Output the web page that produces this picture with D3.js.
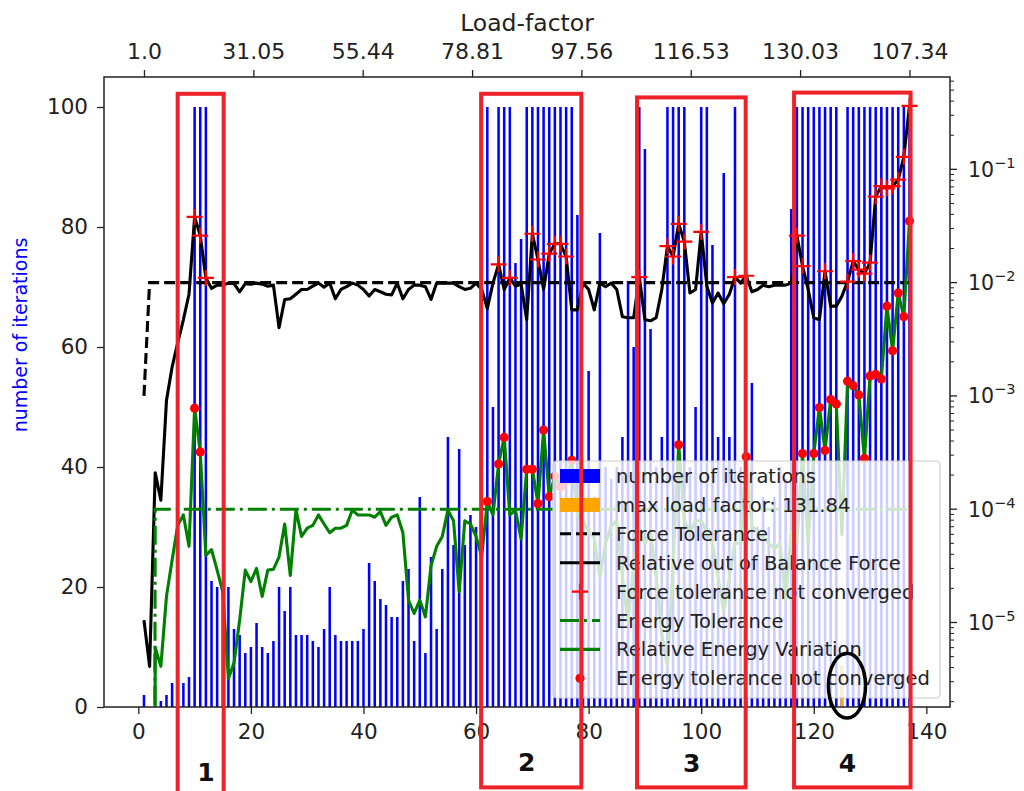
<!DOCTYPE html>
<html>
<head>
<meta charset="utf-8">
<script src="https://cdn.jsdelivr.net/npm/d3@7"></script>
<style>
  body { margin: 0; background: #fff; }
  text { font-family: "DejaVu Sans", sans-serif; }
</style>
</head>
<body>
<svg id="chart" width="1024" height="791"></svg>
<script>
// load steps 1..137 (bar positions on the bottom axis)
const steps = d3.range(1, 138);

// number of iterations per load step
const iterations = [
  2, 0, 0, 1, 2, 4, 4, 4, 5, 100,
  100, 100, 21, 20, 20, 20, 13, 12, 9, 10,
  14, 10, 9, 11, 20, 16, 20, 12, 12, 12,
  11, 10, 13, 20, 12, 11, 11, 11, 11, 13,
  24, 21, 18, 17, 15, 15, 21, 23, 11, 35,
  9, 25, 13, 23, 45, 27, 43, 27, 32, 30,
  28, 100, 50, 100, 100, 100, 74, 78, 100, 100,
  100, 100, 100, 100, 100, 100, 100, 82, 40, 56,
  35, 79, 40, 38, 40, 45, 71, 60, 100, 93,
  63, 40, 45, 100, 100, 100, 100, 40, 50, 100,
  100, 77, 45, 89, 45, 100, 40, 40, 54, 30,
  35, 30, 35, 40, 38, 83, 100, 100, 100, 100,
  100, 100, 100, 100, 7, 100, 100, 100, 100, 100,
  100, 100, 100, 100, 100, 100, 100
];

// relative out of balance force (right log axis)
const forceRes = [
  1.05e-5, 4.1e-6, 2.1e-4, 1.2e-4, 9.1e-4, 1.8e-3, 2.95e-3, 4.7e-3, 7.9e-3, 3.8e-2,
  2.6e-2, 1.1e-2, 8.9e-3, 9.5e-3, 9.5e-3, 9.9e-3, 9.8e-3, 8.3e-3, 9.8e-3, 9.7e-3,
  9.9e-3, 9.7e-3, 9.3e-3, 9.5e-3, 4.0e-3, 7.1e-3, 7.2e-3, 7.9e-3, 8.7e-3, 8.7e-3,
  9.3e-3, 9.9e-3, 9.1e-3, 9.9e-3, 7.2e-3, 8.7e-3, 9.2e-3, 9.9e-3, 9.5e-3, 8.7e-3,
  7.6e-3, 8.7e-3, 8.3e-3, 7.9e-3, 7.8e-3, 9.9e-3, 7.2e-3, 8.7e-3, 9.5e-3, 9.5e-3,
  9.2e-3, 7.1e-3, 9.9e-3, 9.9e-3, 9.9e-3, 9.9e-3, 9.2e-3, 8.7e-3, 8.9e-3, 9.9e-3,
  8.7e-3, 5.9e-3, 9.9e-3, 1.45e-2, 8.7e-3, 1.1e-2, 9.3e-3, 9.7e-3, 4.7e-3, 2.7e-2,
  1.6e-2, 8.7e-3, 1.8e-2, 2.2e-2, 2.2e-2, 1.7e-2, 5.75e-3, 5.75e-3, 9.9e-3, 8.7e-3,
  5.75e-3, 9.9e-3, 9.2e-3, 9.9e-3, 8.7e-3, 5.0e-3, 4.9e-3, 4.9e-3, 1.12e-2, 4.7e-3,
  4.6e-3, 4.9e-3, 8.7e-3, 2.1e-2, 1.7e-2, 3.3e-2, 2.3e-2, 8.1e-3, 8.7e-3, 2.8e-2,
  9.3e-3, 6.6e-3, 8.1e-3, 6.5e-3, 7.9e-3, 1.12e-2, 9.9e-3, 1.15e-2, 8.3e-3, 8.7e-3,
  9.5e-3, 9.2e-3, 9.5e-3, 9.5e-3, 9.5e-3, 9.9e-3, 2.6e-2, 1.4e-2, 8.7e-3, 4.9e-3,
  4.7e-3, 1.26e-2, 6.2e-3, 6.2e-3, 7.6e-3, 1.02e-2, 1.55e-2, 1.3e-2, 1.2e-2, 1.5e-2,
  5.75e-2, 7.1e-2, 6.8e-2, 7.1e-2, 8.1e-2, 0.129, 0.363
];

// force tolerance
const forceTol = [
  1e-3, 1e-2, 1e-2, 1e-2, 1e-2, 1e-2, 1e-2, 1e-2, 1e-2, 1e-2,
  1e-2, 1e-2, 1e-2, 1e-2, 1e-2, 1e-2, 1e-2, 1e-2, 1e-2, 1e-2,
  1e-2, 1e-2, 1e-2, 1e-2, 1e-2, 1e-2, 1e-2, 1e-2, 1e-2, 1e-2,
  1e-2, 1e-2, 1e-2, 1e-2, 1e-2, 1e-2, 1e-2, 1e-2, 1e-2, 1e-2,
  1e-2, 1e-2, 1e-2, 1e-2, 1e-2, 1e-2, 1e-2, 1e-2, 1e-2, 1e-2,
  1e-2, 1e-2, 1e-2, 1e-2, 1e-2, 1e-2, 1e-2, 1e-2, 1e-2, 1e-2,
  1e-2, 1e-2, 1e-2, 1e-2, 1e-2, 1e-2, 1e-2, 1e-2, 1e-2, 1e-2,
  1e-2, 1e-2, 1e-2, 1e-2, 1e-2, 1e-2, 1e-2, 1e-2, 1e-2, 1e-2,
  1e-2, 1e-2, 1e-2, 1e-2, 1e-2, 1e-2, 1e-2, 1e-2, 1e-2, 1e-2,
  1e-2, 1e-2, 1e-2, 1e-2, 1e-2, 1e-2, 1e-2, 1e-2, 1e-2, 1e-2,
  1e-2, 1e-2, 1e-2, 1e-2, 1e-2, 1e-2, 1e-2, 1e-2, 1e-2, 1e-2,
  1e-2, 1e-2, 1e-2, 1e-2, 1e-2, 1e-2, 1e-2, 1e-2, 1e-2, 1e-2,
  1e-2, 1e-2, 1e-2, 1e-2, 1e-2, 1e-2, 1e-2, 1e-2, 1e-2, 1e-2,
  1e-2, 1e-2, 1e-2, 1e-2, 1e-2, 1e-2, 1e-2
];

// relative energy variation
const energyVar = [
  0, 0, 6.0e-6, 4.1e-6, 1.7e-5, 3.55e-5, 7.2e-5, 8.9e-5, 4.7e-5, 7.8e-4,
  3.2e-4, 3.9e-5, 4.4e-5, 2.9e-5, 1.86e-5, 3.2e-6, 4.4e-6, 1.05e-5, 2.9e-5, 2.3e-5,
  3.0e-5, 1.7e-5, 2.9e-5, 2.95e-5, 3.8e-5, 7.4e-5, 2.6e-5, 9.9e-5, 5.75e-5, 6.8e-5,
  7.2e-5, 8.9e-5, 7.4e-5, 6.2e-5, 6.8e-5, 6.8e-5, 7.2e-5, 9.8e-5, 8.9e-5, 8.9e-5,
  8.9e-5, 8.5e-5, 9.5e-5, 7.2e-5, 8.5e-5, 8.9e-5, 6.2e-5, 1.58e-5, 1.2e-5, 1.58e-5,
  1.12e-5, 3.16e-5, 4.7e-5, 5.75e-5, 9.8e-5, 7.9e-5, 1.86e-5, 7.9e-5, 7.4e-5, 5.75e-5,
  3.8e-5, 1.17e-4, 8.9e-5, 2.5e-4, 4.3e-4, 8.9e-5, 9.8e-5, 5.5e-5, 2.25e-4, 2.25e-4,
  1.12e-4, 5.0e-4, 1.29e-4, 1.95e-4, 1.58e-4, 1.78e-4, 2.7e-4, 8.9e-5, 7.9e-5, 6.3e-5,
  5.6e-5, 2.5e-5, 5.0e-5, 7.1e-5, 7.9e-5, 2.5e-5, 1.0e-5, 3.2e-5, 6.3e-5, 5.0e-5,
  6.3e-5, 2.5e-5, 7.9e-6, 4.1e-6, 3.2e-5, 3.7e-4, 7.9e-5, 6.3e-5, 7.9e-5, 7.9e-5,
  6.3e-5, 5.0e-5, 2.5e-5, 1.26e-5, 2.5e-5, 5.0e-5, 5.0e-5, 2.9e-4, 7.1e-5, 6.3e-5,
  5.6e-5, 5.0e-5, 4.5e-5, 5.0e-5, 1.58e-5, 6.3e-5, 5.0e-5, 3.1e-4, 5.0e-5, 3.1e-4,
  7.9e-4, 3.3e-4, 9.3e-4, 8.5e-4, 6.0e-5, 1.35e-3, 1.23e-3, 1.02e-3, 2.8e-4, 1.5e-3,
  1.55e-3, 1.41e-3, 6.2e-3, 2.5e-3, 8.1e-3, 5.0e-3, 3.5e-2
];

// energy tolerance
const energyTol = [
  0, 0, 1e-4, 1e-4, 1e-4, 1e-4, 1e-4, 1e-4, 1e-4, 1e-4,
  1e-4, 1e-4, 1e-4, 1e-4, 1e-4, 1e-4, 1e-4, 1e-4, 1e-4, 1e-4,
  1e-4, 1e-4, 1e-4, 1e-4, 1e-4, 1e-4, 1e-4, 1e-4, 1e-4, 1e-4,
  1e-4, 1e-4, 1e-4, 1e-4, 1e-4, 1e-4, 1e-4, 1e-4, 1e-4, 1e-4,
  1e-4, 1e-4, 1e-4, 1e-4, 1e-4, 1e-4, 1e-4, 1e-4, 1e-4, 1e-4,
  1e-4, 1e-4, 1e-4, 1e-4, 1e-4, 1e-4, 1e-4, 1e-4, 1e-4, 1e-4,
  1e-4, 1e-4, 1e-4, 1e-4, 1e-4, 1e-4, 1e-4, 1e-4, 1e-4, 1e-4,
  1e-4, 1e-4, 1e-4, 1e-4, 1e-4, 1e-4, 1e-4, 1e-4, 1e-4, 1e-4,
  1e-4, 1e-4, 1e-4, 1e-4, 1e-4, 1e-4, 1e-4, 1e-4, 1e-4, 1e-4,
  1e-4, 1e-4, 1e-4, 1e-4, 1e-4, 1e-4, 1e-4, 1e-4, 1e-4, 1e-4,
  1e-4, 1e-4, 1e-4, 1e-4, 1e-4, 1e-4, 1e-4, 1e-4, 1e-4, 1e-4,
  1e-4, 1e-4, 1e-4, 1e-4, 1e-4, 1e-4, 1e-4, 1e-4, 1e-4, 1e-4,
  1e-4, 1e-4, 1e-4, 1e-4, 1e-4, 1e-4, 1e-4, 1e-4, 1e-4, 1e-4,
  1e-4, 1e-4, 1e-4, 1e-4, 1e-4, 1e-4, 1e-4
];

// the step with the max load factor
const maxLoadStep = 125;
const maxLoadIter = 7;
const maxLoadLabel = "max load factor: 131.84";

// tick values and labels
const bottomTicks = [0, 20, 40, 60, 80, 100, 120, 140];
const leftTicks = [0, 20, 40, 60, 80, 100];
const rightTicks = [1e-5, 1e-4, 1e-3, 1e-2, 1e-1];
const topTickPos = [1, 20.43, 39.86, 59.29, 78.71, 98.14, 117.57, 137];
const topTickLabels = ["1.0", "31.05", "55.44", "78.81", "97.56", "116.53", "130.03", "107.34"];

// hand drawn marks on the picture (red boxes, numbers, ellipse)
const boxStart = [6.99, 60.9, 88.6, 116.5];
const boxEnd = [15.16, 78.7, 107.9, 137.2];
const boxTop = [102.2, 102.2, 101.6, 102.4];
const boxBottom = [-14.5, -13.4, -13.4, -13.4];
const boxLabels = ["1", "2", "3", "4"];
const boxLabelX = [12.0, 69.0, 98.3, 126.0];
const boxLabelY = [-10.8, -9.2, -9.4, -9.4];

const legendLabels = ["number of iterations", maxLoadLabel, "Force Tolerance",
  "Relative out of Balance Force", "Force tolerance not converged", "Energy Tolerance",
  "Relative Energy Variation", "Energy tolerance not converged"];

const svg = d3.select("#chart");
const plot = {left: 104, right: 950, top: 77, bottom: 707};
const lw = 3.1;

const x = d3.scaleLinear().domain([-6.1, 144.2]).range([plot.left, plot.right]);
const yL = d3.scaleLinear().domain([0, 105]).range([plot.bottom, plot.top]);
const yR = d3.scaleLog().domain([1.795e-6, 0.653]).range([plot.bottom, plot.top]);

svg.append("defs").append("clipPath").attr("id", "clip")
  .append("rect")
  .attr("x", plot.left).attr("y", plot.top)
  .attr("width", plot.right - plot.left).attr("height", plot.bottom - plot.top);

// bars
const barW = 0.45;
const bars = svg.append("g").attr("clip-path", "url(#clip)");
bars.selectAll("rect.it").data(steps).join("rect")
  .attr("class", "it")
  .attr("x", d => x(d - barW / 2))
  .attr("width", x(barW) - x(0))
  .attr("y", (d, i) => yL(iterations[i]))
  .attr("height", (d, i) => yL(0) - yL(iterations[i]))
  .attr("fill", "blue");
bars.append("rect")
  .attr("x", x(maxLoadStep - barW / 2))
  .attr("width", x(barW) - x(0))
  .attr("y", yL(maxLoadIter))
  .attr("height", yL(0) - yL(maxLoadIter))
  .attr("fill", "orange");

// lines on the log axis
function logY(v) {
  // non positive values are sent far below the axes, like matplotlib clip
  return v > 0 ? yR(v) : plot.bottom + 3000;
}
function series(arr) {
  return steps.map((s, i) => ({s: s, v: arr[i]}));
}
const line = d3.line().x(d => x(d.s)).y(d => logY(d.v));
const lines = svg.append("g").attr("clip-path", "url(#clip)");

lines.append("path").datum(series(forceTol))
  .attr("d", line).attr("fill", "none")
  .attr("stroke", "black").attr("stroke-width", lw)
  .attr("stroke-dasharray", "11,5");
lines.append("path").datum(series(forceRes))
  .attr("d", line).attr("fill", "none")
  .attr("stroke", "black").attr("stroke-width", lw)
  .attr("stroke-linejoin", "round");

const notConvF = steps.filter((s, i) => forceRes[i] > forceTol[i]);
lines.selectAll("path.plus").data(notConvF).join("path")
  .attr("class", "plus")
  .attr("transform", s => `translate(${x(s)},${logY(forceRes[s - 1])})`)
  .attr("d", "M-8,0H8M0,-8V8")
  .attr("stroke", "red").attr("stroke-width", 2.2);

lines.append("path").datum(series(energyTol))
  .attr("d", line).attr("fill", "none")
  .attr("stroke", "green").attr("stroke-width", lw)
  .attr("stroke-dasharray", "19,5,3,5");
lines.append("path").datum(series(energyVar))
  .attr("d", line).attr("fill", "none")
  .attr("stroke", "green").attr("stroke-width", lw)
  .attr("stroke-linejoin", "round");

const notConvE = steps.filter((s, i) => energyVar[i] > energyTol[i] && energyTol[i] > 0);
lines.selectAll("circle.dot").data(notConvE).join("circle")
  .attr("class", "dot")
  .attr("cx", s => x(s)).attr("cy", s => logY(energyVar[s - 1]))
  .attr("r", 4.6).attr("fill", "red");

// axes
function styleAxis(g, size) {
  g.select(".domain").remove();
  g.selectAll(".tick line").attr("stroke", "#222").attr("stroke-width", 1.3);
  g.selectAll(".tick text").attr("fill", "#222").style("font-size", size + "px")
    .style("font-family", "DejaVu Sans, sans-serif");
}
svg.append("g").attr("transform", `translate(0,${plot.bottom})`)
  .call(d3.axisBottom(x).tickValues(bottomTicks).tickFormat(d3.format("d")).tickSize(7).tickPadding(10))
  .call(g => styleAxis(g, 21.5));
svg.append("g").attr("transform", `translate(${plot.left},0)`)
  .call(d3.axisLeft(yL).tickValues(leftTicks).tickFormat(d3.format("d")).tickSize(7).tickPadding(9))
  .call(g => styleAxis(g, 21.5));
svg.append("g").attr("transform", `translate(0,${plot.top})`)
  .call(d3.axisTop(x).tickValues(topTickPos).tickFormat((d, i) => topTickLabels[i]).tickSize(7).tickPadding(11))
  .call(g => styleAxis(g, 22));

// right log axis with minor ticks
const rAxis = svg.append("g").attr("transform", `translate(${plot.right},0)`);
const minor = [];
[-6, -5, -4, -3, -2, -1].forEach(e => {
  for (let m = 2; m <= 9; m++) {
    const v = m * Math.pow(10, e);
    if (v >= yR.domain()[0] && v <= yR.domain()[1]) minor.push(v);
  }
});
rAxis.selectAll("line.minor").data(minor).join("line")
  .attr("class", "minor")
  .attr("x1", 0).attr("x2", 4).attr("y1", d => yR(d)).attr("y2", d => yR(d))
  .attr("stroke", "#222").attr("stroke-width", 1);
rAxis.selectAll("line.major").data(rightTicks).join("line")
  .attr("class", "major")
  .attr("x1", 0).attr("x2", 7).attr("y1", d => yR(d)).attr("y2", d => yR(d))
  .attr("stroke", "#222").attr("stroke-width", 1.3);
const rLab = rAxis.selectAll("text.rl").data(rightTicks).join("text")
  .attr("class", "rl")
  .attr("x", 18).attr("y", d => yR(d) + 7.5)
  .attr("fill", "#222").style("font-size", "20.5px");
rLab.append("tspan").text("10");
rLab.append("tspan").attr("dy", -9).style("font-size", "14.5px")
  .text(d => "\u2212" + Math.round(-Math.log10(d)));

// spines
svg.append("rect")
  .attr("x", plot.left).attr("y", plot.top)
  .attr("width", plot.right - plot.left).attr("height", plot.bottom - plot.top)
  .attr("fill", "none").attr("stroke", "#222").attr("stroke-width", 1.5);

// axis labels
svg.append("text").attr("x", (plot.left + plot.right) / 2).attr("y", 31)
  .attr("text-anchor", "middle").attr("fill", "#222")
  .style("font-size", "23.5px").text("Load-factor");
svg.append("text")
  .attr("transform", "translate(27,335) rotate(-90)")
  .attr("text-anchor", "middle").attr("fill", "blue")
  .style("font-size", "19px").text("number of iterations");

// legend
const lg = svg.append("g");
lg.append("rect").attr("x", 553).attr("y", 461).attr("width", 387).attr("height", 237)
  .attr("rx", 4).attr("fill", "white").attr("fill-opacity", 0.8)
  .attr("stroke", "#cccccc").attr("stroke-width", 1.2);
const rowY = i => 476 + i * 28.9;
lg.append("rect").attr("x", 560).attr("y", rowY(0) - 7).attr("width", 40).attr("height", 14).attr("fill", "blue");
lg.append("rect").attr("x", 560).attr("y", rowY(1) - 7).attr("width", 40).attr("height", 14).attr("fill", "orange");
lg.append("line").attr("x1", 560).attr("x2", 600).attr("y1", rowY(2)).attr("y2", rowY(2))
  .attr("stroke", "black").attr("stroke-width", lw).attr("stroke-dasharray", "11,5");
lg.append("line").attr("x1", 560).attr("x2", 600).attr("y1", rowY(3)).attr("y2", rowY(3))
  .attr("stroke", "black").attr("stroke-width", lw);
lg.append("path").attr("transform", `translate(580,${rowY(4)})`).attr("d", "M-8,0H8M0,-8V8")
  .attr("stroke", "red").attr("stroke-width", 2.2);
lg.append("line").attr("x1", 560).attr("x2", 600).attr("y1", rowY(5)).attr("y2", rowY(5))
  .attr("stroke", "green").attr("stroke-width", lw).attr("stroke-dasharray", "19,5,3,5");
lg.append("line").attr("x1", 560).attr("x2", 600).attr("y1", rowY(6)).attr("y2", rowY(6))
  .attr("stroke", "green").attr("stroke-width", lw);
lg.append("circle").attr("cx", 580).attr("cy", rowY(7)).attr("r", 4.6).attr("fill", "red");
lg.selectAll("text").data(legendLabels).join("text")
  .attr("x", 616).attr("y", (d, i) => rowY(i)).attr("dy", "0.36em")
  .attr("fill", "#222").style("font-size", "19.5px").text(d => d);

// red boxes and numbers drawn over the chart
const notes = svg.append("g");
notes.selectAll("rect").data(boxLabels).join("rect")
  .attr("x", (d, i) => x(boxStart[i]))
  .attr("y", (d, i) => yL(boxTop[i]))
  .attr("width", (d, i) => x(boxEnd[i]) - x(boxStart[i]))
  .attr("height", (d, i) => yL(boxBottom[i]) - yL(boxTop[i]))
  .attr("fill", "none").attr("stroke", "#ee2229").attr("stroke-width", 4);
notes.selectAll("text").data(boxLabels).join("text")
  .attr("x", (d, i) => x(boxLabelX[i])).attr("y", (d, i) => yL(boxLabelY[i]))
  .attr("text-anchor", "middle").attr("dy", "0.36em")
  .style("font-size", "25px").style("font-weight", "bold").attr("fill", "#111")
  .text(d => d);
notes.append("ellipse")
  .attr("cx", x(125.9)).attr("cy", yL(3.55))
  .attr("rx", x(3.3) - x(0)).attr("ry", yL(0) - yL(5.4))
  .attr("fill", "none").attr("stroke", "black").attr("stroke-width", 3.5);
</script>
</body>
</html>
